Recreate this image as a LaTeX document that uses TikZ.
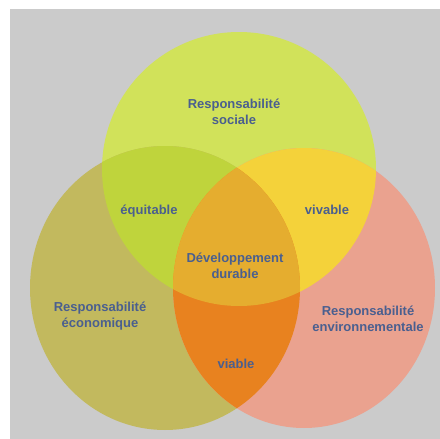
\documentclass[tikz,border=0pt]{standalone}
\usepackage{fontspec}
\setmainfont{Liberation Sans}
\definecolor{bggray}{HTML}{CBCBCB}
\definecolor{cTop}{HTML}{D1E25A}
\definecolor{cLeft}{HTML}{C2B95E}
\definecolor{cRight}{HTML}{EAA28F}
\definecolor{cTL}{HTML}{BFD43C}
\definecolor{cTR}{HTML}{F4D23A}
\definecolor{cLR}{HTML}{E8821F}
\definecolor{cAll}{HTML}{E5AD2F}
\definecolor{txt}{HTML}{4A5F8F}
\begin{document}
\begin{tikzpicture}[x=1pt,y=-1pt,
  lab/.style={text=txt,font=\bfseries\fontsize{13}{16}\selectfont,align=center,inner sep=0pt}]
\def\pTop{(239,169) ellipse [x radius=137pt, y radius=137pt]}
\def\pLeft{(165,288) ellipse [x radius=135pt, y radius=142pt]}
\def\pRight{(304,288) ellipse [x radius=131pt, y radius=140pt]}
\useasboundingbox (0,0) rectangle (440,439);
\fill[white] (0,0) rectangle (440,439);
\fill[bggray] (10,9) rectangle (440,439);
\fill[cTop] \pTop;
\fill[cLeft] \pLeft;
\fill[cRight] \pRight;
\begin{scope}
  \clip \pTop;
  \fill[cTL] \pLeft;
  \fill[cTR] \pRight;
\end{scope}
\begin{scope}
  \clip \pLeft;
  \fill[cLR] \pRight;
\end{scope}
\begin{scope}
  \clip \pTop;
  \clip \pLeft;
  \fill[cAll] \pRight;
\end{scope}
\node[lab] (soc) at (234,112) {Responsabilité\\sociale};
\node[lab] (equ) at (149,211) {équitable};
\node[lab] (viv) at (327,210) {vivable};
\node[lab] (dd) at (235,266) {Développement\\durable};
\node[lab] (eco) at (100,316) {Responsabilité\\économique};
\node[lab] (env) at (368,319) {Responsabilité\\environnementale};
\node[lab] (via) at (236,364) {viable};
\end{tikzpicture}
\end{document}
